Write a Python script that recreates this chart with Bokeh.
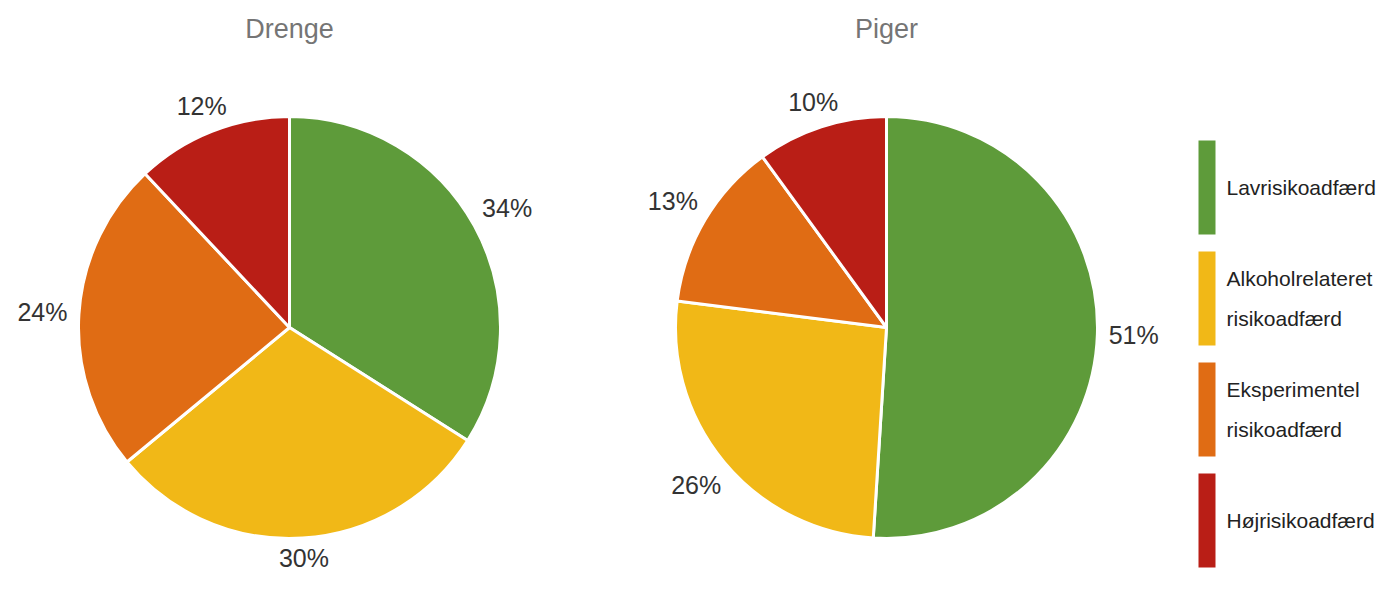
import numpy as np
from bokeh.plotting import figure
from bokeh.models import Range1d, ColumnDataSource
from bokeh.core.properties import value
from bokeh.embed import file_html
from bokeh.resources import INLINE

categories = ["Lavrisikoadfærd", "Alkoholrelateret\nrisikoadfærd",
              "Eksperimentel\nrisikoadfærd", "Højrisikoadfærd"]
colors = ["#5e9b3a", "#f1b817", "#e06c14", "#b91e16"]
titles = ["Drenge", "Piger"]
drenge = [34, 30, 24, 12]
piger = [51, 26, 13, 10]
series = [drenge, piger]

W, H = 1380, 574
FONT = "Liberation Sans"

p = figure(width=W, height=H, output_backend="svg", toolbar_location=None,
           x_range=Range1d(0, W), y_range=Range1d(0, H), min_border=0)
p.axis.visible = False
p.grid.visible = False
p.outline_line_color = None
p.background_fill_color = "white"

def Y(y):
    return H - y

centers = [(289, 327), (886, 327)]
R = 211
GAP = 8
HW, HH = 28, 10   # half width / half height of a percentage label

for (cx, cy), vals, title in zip(centers, series, titles):
    v = np.array(vals, dtype=float)
    frac = v / v.sum()
    cum = np.concatenate([[0], np.cumsum(frac)])
    start = np.pi / 2 - 2 * np.pi * cum[:-1]
    end = np.pi / 2 - 2 * np.pi * cum[1:]
    src = ColumnDataSource(dict(start=start, end=end, color=colors))
    p.wedge(x=cx, y=Y(cy), radius=R, start_angle="start", end_angle="end",
            direction="clock", fill_color="color", line_color="white",
            line_width=3, source=src)
    mid = np.pi / 2 - 2 * np.pi * (cum[:-1] + cum[1:]) / 2
    dist = R + GAP + HW * np.abs(np.cos(mid)) + HH * np.abs(np.sin(mid))
    lx = cx + dist * np.cos(mid)
    ly = Y(cy) + dist * np.sin(mid)
    labels = [f"{int(x)}%" for x in vals]
    p.text(x=lx, y=ly, text=labels, text_align="center", text_baseline="middle",
           text_font=value(FONT), text_font_size="25px", text_color="#333333")
    p.text(x=[cx], y=[Y(28)], text=[title], text_align="center",
           text_baseline="middle", text_font=value(FONT),
           text_font_size="27px", text_color="#757575")

# legend
n = len(categories)
idx = np.arange(n)
lc = 187 + 111 * idx
p.quad(left=1198, right=1215, top=Y(lc - 47), bottom=Y(lc + 47),
       fill_color=colors, line_color=None)
p.text(x=[1226] * n, y=Y(lc), text=categories, text_align="left",
       text_baseline="middle", text_font=value(FONT), text_font_size="21px",
       text_color="#222222", text_line_height=1.7)

open("out.html", "w").write(file_html(p, INLINE))
